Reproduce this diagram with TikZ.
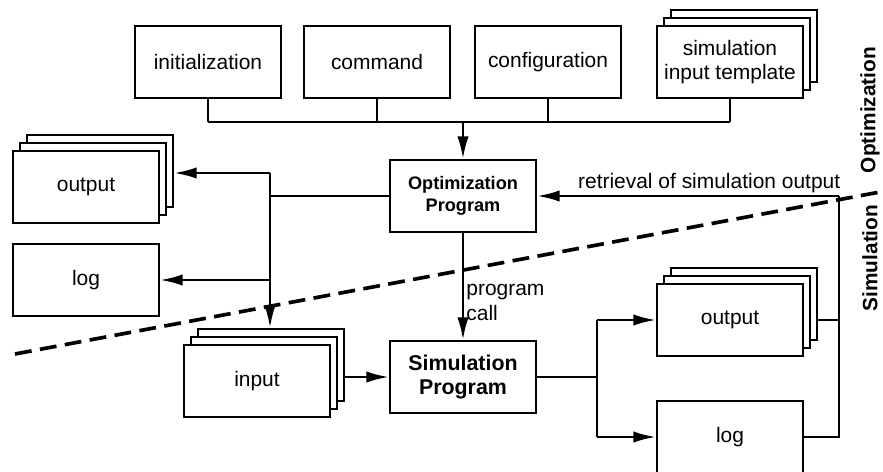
\documentclass[tikz,border=0pt]{standalone}
\usepackage{fontspec}
\setmainfont{Liberation Sans}
\usetikzlibrary{arrows.meta,shadows}

\begin{document}
\begin{tikzpicture}[x=0.025cm,y=-0.025cm,
   box/.style={draw,line width=1.5pt,fill=white,minimum width=103.8pt,
     minimum height=51.2pt,inner sep=0pt,align=center,
     font=\fontsize{14.9}{17.6}\selectfont},
   stack/.style={box,
     copy shadow={shadow xshift=10pt,shadow yshift=11.4pt,draw=black,line width=1.5pt},
     copy shadow={shadow xshift=5pt,shadow yshift=5.7pt,draw=black,line width=1.5pt}},
   prog/.style={box,font=\bfseries\fontsize{12.9}{15.6}\selectfont},
   wire/.style={line width=1.4pt},
   flow/.style={line width=1.8pt,-{Latex[length=16pt,width=8pt]}},
   lbl/.style={font=\fontsize{14.9}{17.6}\selectfont,inner sep=1.5pt},
   side/.style={rotate=90,font=\bfseries\fontsize{14.8}{17}\selectfont}]
   \useasboundingbox (0,0) rectangle (883,472);
   % border between the two levels
   \draw[line width=2.6pt,dash pattern=on 12pt off 6pt] (15,354) -- (880,192);
   \node[side] (optSide) at (870,110) {Optimization};
   \node[side] (simSide) at (870,258) {Simulation};
   % boxes
   \node[box] (init) at (208,62) {initialization};
   \node[box] (cmd) at (377,62) {command};
   \node[box] (conf) at (548,62) {configuration};
   \node[stack] (tmpl) at (730,62) {simulation\\input template};
   \node[prog] (opt) at (463,196) {Optimization\\Program};
   \node[stack] (outL) at (86,187) {output};
   \node[box] (logL) at (86,280) {log};
   \node[stack] (input) at (257,381) {input};
   \node[prog,font=\bfseries\fontsize{15.2}{17}\selectfont] (sim) at (463,377) {Simulation\\Program};
   \node[stack] (outR) at (730,320) {output};
   \node[box] (logR) at (730,437) {log};
   % inputs of the optimization program
   \coordinate (bus) at (464,122);
   \foreach \n in {init,cmd,conf,tmpl}
    \draw[wire] (\n.south) -- (\n.south |- bus);
   \draw[wire] (init.south |- bus) -- (tmpl.south |- bus);
   \draw[flow] (opt.north |- bus) -- (opt.north);
   % outputs of the optimization program
   \coordinate (jL) at (270,173);
   \coordinate (inTop) at ([yshift=11.4pt]input.north);
   \coordinate (inR) at ([xshift=10pt]input.east);
   \draw[wire] (opt.west) -- (opt.west -| jL);
   \draw[flow] (jL) -- ([xshift=10pt]outL.east |- jL);
   \draw[flow] (jL) -- (jL |- inTop);
   \draw[flow] (logL.east -| jL) -- (logL.east);
   \draw[flow] (inR |- sim.west) -- (sim.west);
   \draw[flow] (opt.south) -- node[lbl,right,pos=0.65,align=left]{program\\call} (sim.north);
   % simulation
   \coordinate (jR) at (597,377);
   \draw[wire] (sim.east) -- (jR);
   \draw[wire] (jR |- outR.west) -- (jR |- logR.west);
   \draw[flow] (jR |- outR.west) -- (outR.west);
   \draw[flow] (jR |- logR.west) -- (logR.west);
   % retrieval
   \coordinate (jRet) at (839,196);
   \draw[wire] ([xshift=10pt]outR.east) -- (outR.east -| jRet);
   \draw[wire] (logR.east) -- (logR.east -| jRet) -- (jRet);
   \draw[flow] (jRet) -- node[lbl,above,pos=0.43]{retrieval of simulation output} (opt.east);
\end{tikzpicture}
\end{document}
